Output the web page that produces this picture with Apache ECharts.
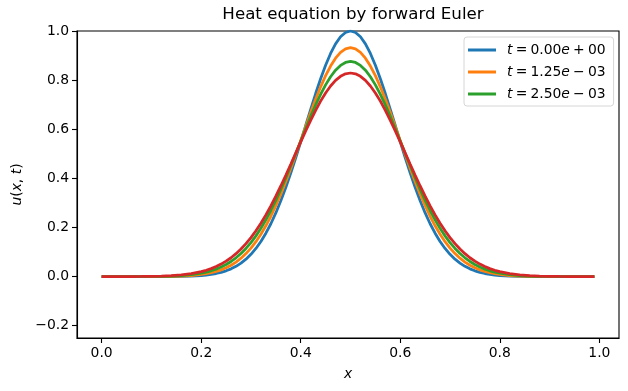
<!DOCTYPE html>
<html>
<head>
<meta charset="utf-8">
<script src="https://cdn.jsdelivr.net/npm/echarts@6/dist/echarts.min.js"></script>
<style>
html,body{margin:0;padding:0;background:#fff;}
#chart{width:628px;height:391px;}
</style>
</head>
<body>
<div id="chart"></div>
<script>
const xValues = [0, 0.02, 0.04, 0.06, 0.08, 0.10, 0.12, 0.14, 0.16, 0.18, 0.20, 0.21, 0.22, 0.23, 0.24, 0.25, 0.26, 0.27, 0.28, 0.29, 0.30, 0.31, 0.32, 0.33, 0.34, 0.35, 0.36, 0.37, 0.38, 0.39, 0.40, 0.41, 0.42, 0.43, 0.44, 0.45, 0.46, 0.47, 0.48, 0.49, 0.50, 0.51, 0.52, 0.53, 0.54, 0.55, 0.56, 0.57, 0.58, 0.59, 0.60, 0.61, 0.62, 0.63, 0.64, 0.65, 0.66, 0.67, 0.68, 0.69, 0.70, 0.71, 0.72, 0.73, 0.74, 0.75, 0.76, 0.77, 0.78, 0.79, 0.80, 0.82, 0.84, 0.86, 0.88, 0.90, 0.92, 0.94, 0.96, 0.98, 0.99];

const uT0 = [0, 0, 0, 0, 0, 0.0001, 0.0002, 0.0004, 0.0010, 0.0021, 0.0045, 0.0064, 0.0091, 0.0126, 0.0173, 0.0235, 0.0316, 0.0418, 0.0548, 0.0709, 0.0907, 0.1146, 0.1431, 0.1766, 0.2152, 0.2592, 0.3085, 0.3628, 0.4215, 0.4838, 0.5488, 0.6151, 0.6811, 0.7453, 0.8057, 0.8607, 0.9085, 0.9474, 0.9763, 0.9940,
  1.0,
  0.9940, 0.9763, 0.9474, 0.9085, 0.8607, 0.8057, 0.7453, 0.6811, 0.6151, 0.5488, 0.4838, 0.4215, 0.3628, 0.3085, 0.2592, 0.2152, 0.1766, 0.1431, 0.1146, 0.0907, 0.0709, 0.0548, 0.0418, 0.0316, 0.0235, 0.0173, 0.0126, 0.0091, 0.0064, 0.0045, 0.0021, 0.0010, 0.0004, 0.0002, 0.0001, 0, 0, 0, 0, 0];

const uT1 = [0, 0, 0, 0, 0.0001, 0.0002, 0.0005, 0.0011, 0.0023, 0.0045, 0.0086, 0.0117, 0.0157, 0.0209, 0.0275, 0.0359, 0.0463, 0.0592, 0.0749, 0.0937, 0.1160, 0.1421, 0.1723, 0.2068, 0.2456, 0.2886, 0.3357, 0.3864, 0.4402, 0.4962, 0.5535, 0.6111, 0.6678, 0.7220, 0.7726, 0.8182, 0.8574, 0.8893, 0.9128, 0.9272,
  0.932,
  0.9272, 0.9128, 0.8893, 0.8574, 0.8182, 0.7726, 0.7220, 0.6678, 0.6111, 0.5535, 0.4962, 0.4402, 0.3864, 0.3357, 0.2886, 0.2456, 0.2068, 0.1723, 0.1421, 0.1160, 0.0937, 0.0749, 0.0592, 0.0463, 0.0359, 0.0275, 0.0209, 0.0157, 0.0117, 0.0086, 0.0045, 0.0023, 0.0011, 0.0005, 0.0002, 0.0001, 0, 0, 0, 0];

const uT2 = [0, 0, 0, 0.0001, 0.0003, 0.0005, 0.0011, 0.0022, 0.0042, 0.0078, 0.0138, 0.0181, 0.0236, 0.0304, 0.0388, 0.0491, 0.0616, 0.0765, 0.0941, 0.1147, 0.1386, 0.1658, 0.1967, 0.2312, 0.2691, 0.3105, 0.3549, 0.4019, 0.4511, 0.5015, 0.5525, 0.6030, 0.6522, 0.6989, 0.7421, 0.7806, 0.8137, 0.8404, 0.8600, 0.8720,
  0.876,
  0.8720, 0.8600, 0.8404, 0.8137, 0.7806, 0.7421, 0.6989, 0.6522, 0.6030, 0.5525, 0.5015, 0.4511, 0.4019, 0.3549, 0.3105, 0.2691, 0.2312, 0.1967, 0.1658, 0.1386, 0.1147, 0.0941, 0.0765, 0.0616, 0.0491, 0.0388, 0.0304, 0.0236, 0.0181, 0.0138, 0.0078, 0.0042, 0.0022, 0.0011, 0.0005, 0.0003, 0.0001, 0, 0, 0];

const uT3 = [0, 0.0001, 0.0001, 0.0003, 0.0006, 0.0011, 0.0021, 0.0039, 0.0070, 0.0121, 0.0201, 0.0257, 0.0325, 0.0409, 0.0508, 0.0628, 0.0768, 0.0933, 0.1123, 0.1341, 0.1589, 0.1867, 0.2174, 0.2513, 0.2880, 0.3273, 0.3690, 0.4125, 0.4574, 0.5030, 0.5485, 0.5933, 0.6364, 0.6771, 0.7144, 0.7477, 0.7760, 0.7987, 0.8154, 0.8256,
  0.829,
  0.8256, 0.8154, 0.7987, 0.7760, 0.7477, 0.7144, 0.6771, 0.6364, 0.5933, 0.5485, 0.5030, 0.4574, 0.4125, 0.3690, 0.3273, 0.2880, 0.2513, 0.2174, 0.1867, 0.1589, 0.1341, 0.1123, 0.0933, 0.0768, 0.0628, 0.0508, 0.0409, 0.0325, 0.0257, 0.0201, 0.0121, 0.0070, 0.0039, 0.0021, 0.0011, 0.0006, 0.0003, 0.0001, 0.0001, 0.0001];

const seriesNames = ['t=0.00e+00', 't=1.25e-03', 't=2.50e-03', 't=3.75e-03'];
const legendNames = ['t=0.00e+00', 't=1.25e-03', 't=2.50e-03'];
const seriesColors = ['#1f77b4', '#ff7f0e', '#2ca02c', '#d62728'];
const xTicks = [0, 0.2, 0.4, 0.6, 0.8, 1.0];
const yTicks = [-0.2, 0, 0.2, 0.4, 0.6, 0.8, 1.0];
const titleText = 'Heat equation by forward Euler';

const FONT = 'DejaVu Sans';
const allSeries = [uT0, uT1, uT2, uT3];

const chart = echarts.init(document.getElementById('chart'), null, {renderer: 'canvas'});

function fmtTick(v) {
  return v.toFixed(1).replace('-', '\u2212');
}

const option = {
  animation: false,
  backgroundColor: '#fff',
  title: {
    text: titleText,
    left: 348,
    top: 1,
    textAlign: 'center',
    textStyle: {fontFamily: FONT, fontSize: 16.67, fontWeight: 'normal', color: '#000'}
  },
  grid: {
    left: 77, right: 9, top: 31, bottom: 53,
    show: true, borderColor: '#000', borderWidth: 1.1, backgroundColor: 'transparent'
  },
  legend: {
    data: legendNames,
    orient: 'vertical',
    left: 464,
    top: 37,
    itemWidth: 28,
    itemHeight: 3,
    itemGap: 8,
    icon: 'rect',
    padding: [6, 8, 5, 4],
    backgroundColor: 'rgba(255,255,255,0.8)',
    borderColor: '#d6d6d6',
    borderWidth: 1,
    borderRadius: 3,
    formatter: function (name) {
      const m = name.match(/t=([\d.]+)e([+-])(\d+)/);
      const sign = m[2] === '-' ? '\u2212' : '+';
      return '{it|t}{sp| }{n|=}{sp| }{n|' + m[1] + '}{it|e}{sp| }{n|' + sign + '}{sp| }{n|' + m[3] + '}';
    },
    textStyle: {
      fontFamily: FONT, fontSize: 13.9, color: '#000',
      padding: [0, 0, 0, 6],
      rich: {
        it: {fontFamily: FONT, fontSize: 13.9, fontStyle: 'italic', color: '#000'},
        n: {fontFamily: FONT, fontSize: 13.9, color: '#000'},
        sp: {fontFamily: FONT, fontSize: 10, color: '#000'}
      }
    }
  },
  xAxis: {
    type: 'value',
    min: -0.0495,
    max: 1.0395,
    name: '{it|x}',
    nameLocation: 'middle',
    nameGap: 29,
    nameTextStyle: {
      rich: {it: {fontFamily: FONT, fontSize: 13.9, fontStyle: 'italic', color: '#000'}}
    },
    splitLine: {show: false},
    axisLine: {show: true, onZero: false, lineStyle: {color: '#000', width: 1.1}},
    axisTick: {show: true, inside: false, length: 5, customValues: xTicks, lineStyle: {color: '#000', width: 1.1}},
    axisLabel: {
      customValues: xTicks, margin: 8, formatter: fmtTick,
      fontFamily: FONT, fontSize: 13.9, color: '#000'
    }
  },
  yAxis: {
    type: 'value',
    min: -0.25,
    max: 1.0,
    name: '{it|u}{n|(}{it|x}{n|, }{it|t}{n|)}',
    nameLocation: 'middle',
    nameRotate: 90,
    nameGap: 50,
    nameTextStyle: {
      rich: {
        it: {fontFamily: FONT, fontSize: 13.9, fontStyle: 'italic', color: '#000'},
        n: {fontFamily: FONT, fontSize: 13.9, color: '#000'}
      }
    },
    splitLine: {show: false},
    axisLine: {show: true, onZero: false, lineStyle: {color: '#000', width: 1.1}},
    axisTick: {show: true, inside: false, length: 5, customValues: yTicks, lineStyle: {color: '#000', width: 1.1}},
    axisLabel: {
      customValues: yTicks, margin: 8, formatter: fmtTick,
      fontFamily: FONT, fontSize: 13.9, color: '#000'
    }
  },
  series: allSeries.map(function (ys, i) {
    return {
      name: seriesNames[i],
      type: 'line',
      data: xValues.map(function (x, j) { return [x, ys[j]]; }),
      showSymbol: false,
      symbol: 'none',
      smooth: false,
      color: seriesColors[i],
      lineStyle: {color: seriesColors[i], width: 2.78},
      emphasis: {disabled: true}
    };
  })
};

chart.setOption(option);
</script>
</body>
</html>
